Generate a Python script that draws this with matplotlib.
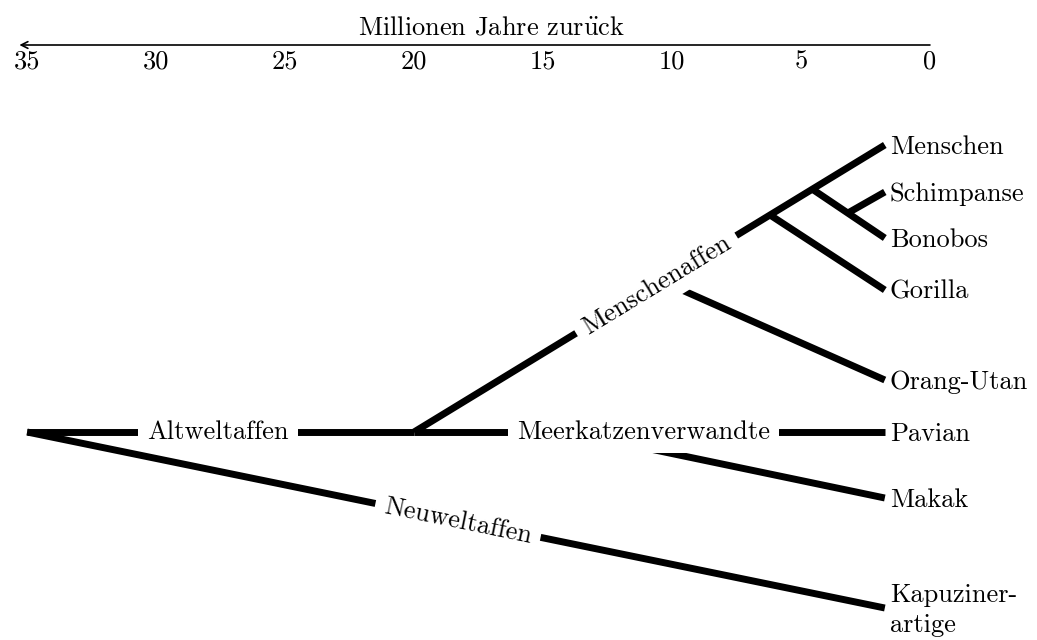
import numpy as np
import matplotlib
matplotlib.use('agg')
import matplotlib.pyplot as plt

plt.rcParams['font.family'] = ['cmr10', 'DejaVu Serif']
plt.rcParams['mathtext.fontset'] = 'cm'
plt.rcParams['axes.formatter.use_mathtext'] = True

# time axis (million years ago)
ticks = [35, 30, 25, 20, 15, 10, 5, 0]
axis_title = r'Millionen Jahre zur$\ddot{\mathrm{u}}$ck'

# leaves: name, row (y), age of tip
leaf_names = ['Menschen', 'Schimpanse', 'Bonobos', 'Gorilla', 'Orang-Utan',
              'Pavian', 'Makak', 'Kapuziner-\nartige']
leaf_y = [145, 192, 238, 290, 380, 432, 498, 608]
tip_age = 1.75

# where each leaf's branch starts (age, row)
start_age = [20, 3.18, 4.57, 6.2, 10.4, 20, 14.0, 35]
start_y = [432, 213, 189, 215, 281, 432, 432, 432]

# stem from root to Altweltaffen split
stem_age = [35, 20]
stem_y = [432, 432]

# group labels: text, age, row, branch index used for angle (-1 = stem)
group_names = ['Altweltaffen', 'Meerkatzenverwandte', 'Menschenaffen', 'Neuweltaffen']
group_age = [27.6, 11.1, 10.6, 18.3]
group_y = [432, 432, 285, 521]
group_branch = [-1, 5, 0, 7]

fig = plt.figure(figsize=(10.37, 6.4), dpi=100)
ax = fig.add_axes([0, 0, 1, 1])
ax.set_xlim(36.05, -4.15)
ax.set_ylim(640, 0)
ax.axis('off')

fs = 19

# branches
ax.plot(stem_age, stem_y, color='k', lw=5, solid_capstyle='butt', zorder=1)
for i in range(len(leaf_names)):
    # the Neuweltaffen branch runs over the Altweltaffen label box
    z = 4 if i == len(leaf_names) - 1 else 1
    ax.plot([start_age[i], tip_age], [start_y[i], leaf_y[i]], color='k', lw=5,
            solid_capstyle='butt', zorder=z)
    ax.text(tip_age - 0.2, leaf_y[i] + 2, leaf_names[i], ha='left', va='center',
            fontsize=fs, linespacing=1.3, zorder=3)

# group labels lying on their branches
for name, a, y, b in zip(group_names, group_age, group_y, group_branch):
    if b < 0:
        p0 = (stem_age[0], stem_y[0])
        p1 = (stem_age[1], stem_y[1])
    else:
        p0 = (start_age[b], start_y[b])
        p1 = (tip_age, leaf_y[b])
    d0 = ax.transData.transform(p0)
    d1 = ax.transData.transform(p1)
    ang = np.degrees(np.arctan2(d1[1] - d0[1], d1[0] - d0[0]))
    ax.text(a, y, name, ha='center', va='center', rotation=ang,
            rotation_mode='anchor', fontsize=fs, zorder=5 if b == 7 else 3,
            bbox=dict(boxstyle='square,pad=0.35', fc='white', ec='none'))

# time axis on top
ax.annotate('', xy=(ticks[0] + 0.3, 45), xytext=(ticks[-1], 45),
            arrowprops=dict(arrowstyle='->', lw=1.2, color='k', mutation_scale=12,
                            shrinkA=0, shrinkB=0))
for t in ticks:
    ax.text(t, 62, str(t), ha='center', va='center', fontsize=fs)
ax.text(17.0, 28, axis_title, ha='center', va='center', fontsize=fs)

plt.savefig('out.png', dpi=100)
